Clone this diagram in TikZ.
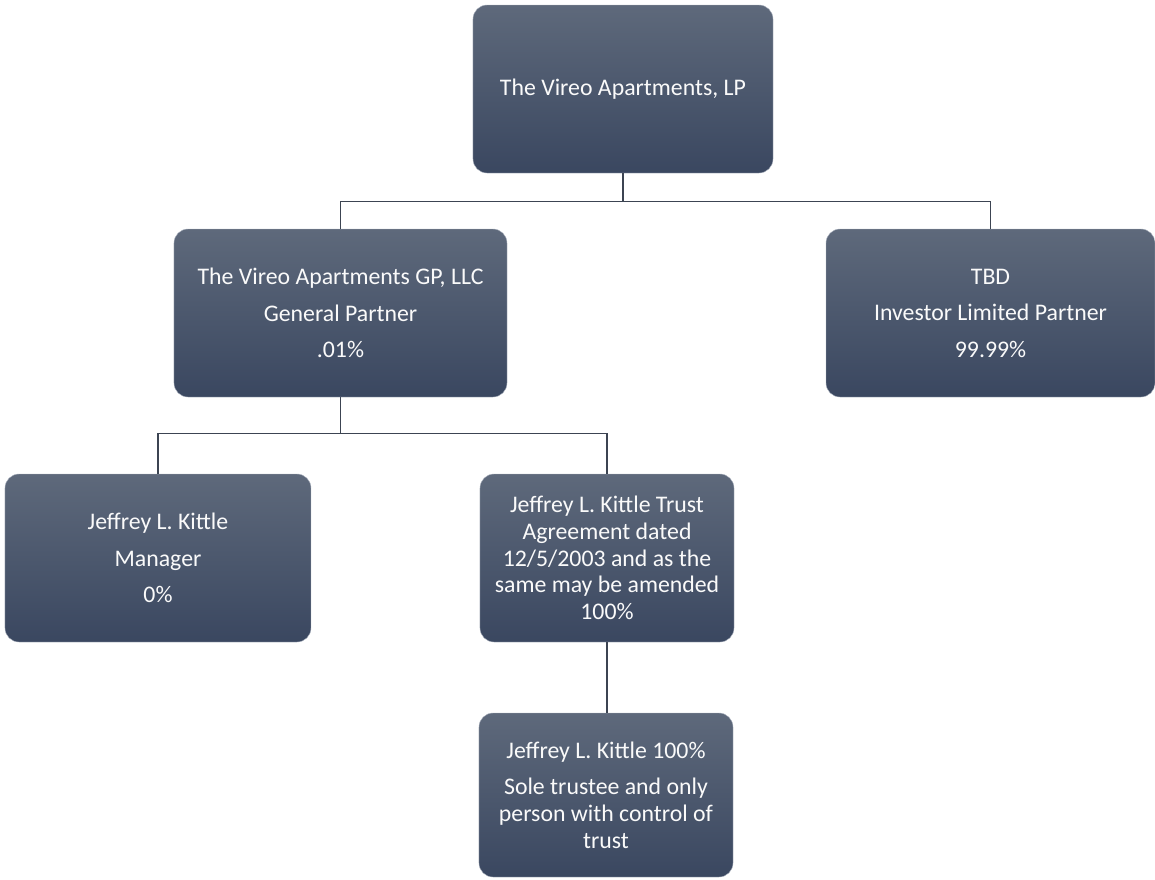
\documentclass[tikz,border=0pt]{standalone}
\usepackage{fontspec}
\setmainfont{Carlito}
\usetikzlibrary{positioning}
\definecolor{boxtop}{RGB}{94,105,123}
\definecolor{boxbot}{RGB}{58,71,96}
\definecolor{boxline}{RGB}{175,182,194}
\definecolor{connline}{RGB}{60,68,82}

\begin{document}
\begin{tikzpicture}[node distance=224pt,
org_box/.style={draw=boxline, thin, rounded corners=14pt, top color=boxtop, bottom color=boxbot, text=white!96!gray, align=center, font=\fontsize{23.8}{26.7}\selectfont, minimum height=168pt, inner sep=0pt}, conn/.style={draw=connline, line width=1.3pt}]
    \useasboundingbox (-623pt,89pt) rectangle (532pt,-790pt);
    % Nodes
    \node (LP) [org_box, minimum width=300pt] {The Vireo Apartments, LP};
    \node (GP) [below of=LP, xshift=-282.5pt, org_box, minimum width=333pt] {The Vireo Apartments GP, LLC\\[9.8pt] General Partner\\[9.8pt] .01\%};
    \node (TBD) [below of=LP, xshift=367.5pt, org_box, minimum width=329pt] {TBD\\[9.8pt] Investor Limited Partner\\[9.8pt] 99.99\%};
    \node (Mgr) [below of=GP, xshift=-182.5pt, yshift=-21pt, org_box, minimum width=306pt] {Jeffrey L. Kittle\\[9.8pt] Manager\\[9.8pt] 0\%};
    \node (Trust) [below of=GP, xshift=266.5pt, yshift=-21pt, org_box, minimum width=254pt] {Jeffrey L. Kittle Trust\\ Agreement dated\\ 12/5/2003 and as the\\ same may be amended\\ 100\%};
    \node (Kittle) [below of=Trust, xshift=-1pt, yshift=-13pt, org_box, minimum width=254pt, minimum height=164pt] {Jeffrey L. Kittle 100\%\\[9.8pt] Sole trustee and only\\ person with control of\\ trust};

    % Lines
    \draw[conn] (LP.south) -- ++(0,-28pt) -| (GP.north);
    \draw[conn] (LP.south) -- ++(0,-28pt) -| (TBD.north);
    \draw[conn] (GP.south) -- ++(0,-36pt) -| (Mgr.north);
    \draw[conn] (GP.south) -- ++(0,-36pt) -| (Trust.north);
    \draw[conn] (Trust.south) -- (Trust.south |- Kittle.north);

  \end{tikzpicture}
\end{document}
